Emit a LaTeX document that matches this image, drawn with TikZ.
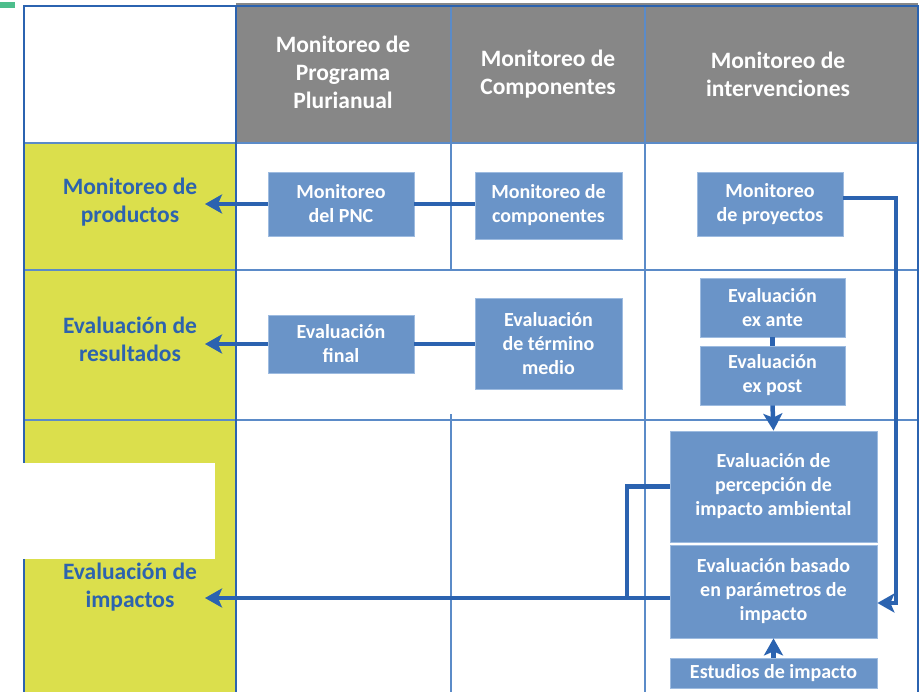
\documentclass[tikz,border=0pt]{standalone}
\usepackage{fontspec}
\setmainfont{Carlito}
\usetikzlibrary{arrows.meta}
\definecolor{hdrgray}{HTML}{878787}
\definecolor{lime}{HTML}{DBDF4C}
\definecolor{gridblue}{HTML}{5B8BC8}
\definecolor{darkblue}{HTML}{2B63B0}
\definecolor{boxfill}{HTML}{6A94C8}
\definecolor{boxedge}{HTML}{9DBBE0}
\definecolor{labelblue}{HTML}{2D63AE}
\definecolor{teal}{HTML}{4DBE8C}
\begin{document}
\begin{tikzpicture}[x=1pt,y=-1pt,
  grid/.style={draw=gridblue,line width=1.3pt},
  border/.style={draw=darkblue,line width=2.2pt},
  hdr/.style={text=white,align=center,font=\fontsize{23.5}{28}\selectfont\bfseries},
  rowlab/.style={text=labelblue,align=center,font=\fontsize{23.5}{28}\selectfont\bfseries},
  box/.style={fill=boxfill,draw=boxedge,line width=0.8pt,text=white,align=center,inner sep=0pt,
    font=\fontsize{20}{24}\selectfont\bfseries},
  conn/.style={draw=darkblue,line width=4.5pt},
  arr/.style={conn,-{Stealth[length=17pt,width=19pt,inset=4pt]}}
]
\useasboundingbox (0,0) rectangle (923,692);
% fills
\fill[teal] (0,2) rectangle (15,8);
\fill[hdrgray] (236,3) rectangle (918,143);
\fill[lime] (24,143) rectangle (236,692);
% grid
\draw[grid] (24,143) -- (918,143);
\draw[grid] (24,270) -- (918,270);
\draw[grid] (24,420) -- (918,420);
\draw[grid] (451,6) -- (451,270);
\draw[grid] (451,414) -- (451,692);
\draw[grid] (645,6) -- (645,692);
\draw[border] (24,692) -- (24,6) -- (918,6) -- (918,692);
\draw[border] (236,6) -- (236,692);
% white overlay
\fill[white] (22,463) rectangle (215,559);
% header texts
\node[hdr] (h1) at (343,72) {Monitoreo de\\Programa\\Plurianual};
\node[hdr] (h2) at (548,74) {Monitoreo de\\Componentes};
\node[hdr] (h3) at (778,74) {Monitoreo de\\intervenciones};
% row labels
\node[rowlab] (r1) at (130,202) {Monitoreo de\\productos};
\node[rowlab] (r2) at (130,339.5) {Evaluación de\\resultados};
\node[rowlab] (r3) at (130,587) {Evaluación de\\impactos};
% boxes
\node[box,minimum width=146pt,minimum height=64pt] (pnc) at (341,204) {Monitoreo\\del PNC};
\node[box,minimum width=147pt,minimum height=67pt] (comp) at (548.5,205.5) {Monitoreo de\\componentes};
\node[box,minimum width=146pt,minimum height=64pt] (proy) at (770,204) {Monitoreo\\de proyectos};
\node[box,minimum width=146pt,minimum height=58pt] (final) at (341,344) {Evaluación\\final};
\node[box,minimum width=147pt,minimum height=91pt] (medio) at (548.5,343.5) {Evaluación\\de término\\medio};
\node[box,minimum width=145pt,minimum height=59pt] (exante) at (772.5,307.5) {Evaluación\\ex ante};
\node[box,minimum width=145pt,minimum height=59pt] (expost) at (772.5,375.5) {Evaluación\\ex post};
\node[box,minimum width=207pt,minimum height=111pt] (percep) at (773.5,486.5) {Evaluación de\\percepción de\\impacto ambiental};
\node[box,minimum width=207pt,minimum height=93pt] (basado) at (773.5,591.5) {Evaluación basado\\en parámetros de\\impacto};
\node[box,minimum width=207pt,minimum height=30pt] (estud) at (773.5,673) {Estudios de impacto};
% endpoints
\coordinate (e1) at (205,204);
\coordinate (e2) at (205,344);
\coordinate (e3) at (205,598);
\coordinate (jn) at (627,598);
\coordinate (rx) at (896,198);
% connectors
\draw[arr] (pnc.west) -- (e1);
\draw[conn] (comp.west |- pnc.east) -- (pnc.east);
\draw[arr] (final.west) -- (e2);
\draw[conn] (medio.west |- final.east) -- (final.east);
\draw[conn] (exante.south) -- (expost.north);
\draw[arr] (expost.south) -- (percep.north);
\draw[arr] (estud.north) -- (basado.south);
\draw[arr] ([yshift=6pt]proy.east) -- (rx) |- ([yshift=-11.5pt]basado.east);
\draw[conn] (percep.west) -| (jn);
\draw[arr] ([yshift=-6.5pt]basado.west) -- (e3);
\end{tikzpicture}
\end{document}
